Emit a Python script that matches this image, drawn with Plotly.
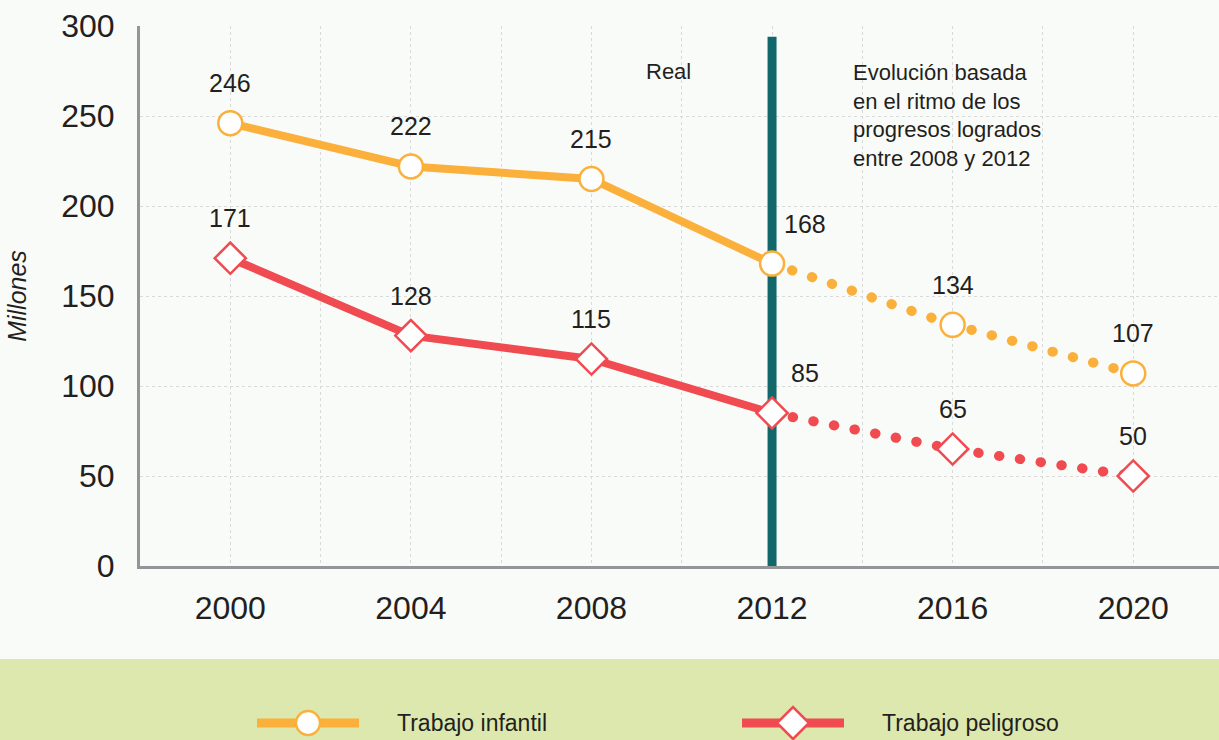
import plotly.graph_objects as go

# ---- data ----
years_real = [2000, 2004, 2008, 2012]
years_proj = [2012, 2016, 2020]
infantil_real = [246, 222, 215, 168]
infantil_proj = [168, 134, 107]
peligroso_real = [171, 128, 115, 85]
peligroso_proj = [85, 65, 50]
tick_years = [2000, 2004, 2008, 2012, 2016, 2020]

ORANGE = "#fbb03b"
RED = "#ef4b50"
TEAL = "#12676a"
GRAY = "#939598"
GRID = "#d9d9d9"
TXT = "#231f20"
BG = "#f9fbf8"
LEG_BG = "#dce8ad"
FONT = "Liberation Sans, Arial, sans-serif"

W, H = 1219, 740
L, R, T, B = 140, 0, 26, 174


def px2x(px):
    return (px - L) / (W - L - R)


def px2y(py):
    return (H - B - py) / (H - T - B)


fig = go.Figure()

# dotted projections first so the real markers sit above them
for yrs, vals, col in [(years_proj, infantil_proj, ORANGE), (years_proj, peligroso_proj, RED)]:
    fig.add_trace(go.Scatter(x=yrs, y=vals, mode="lines", showlegend=False,
                             line=dict(color=col, width=10, dash="0.5px,20.5px"),
                             hoverinfo="skip"))

series = [
    ("Trabajo infantil", years_real, infantil_real, years_proj, infantil_proj, ORANGE, "circle"),
    ("Trabajo peligroso", years_real, peligroso_real, years_proj, peligroso_proj, RED, "diamond"),
]

for name, xr, yr, xp, yp, col, sym in series:
    fig.add_trace(go.Scatter(x=xr, y=yr, mode="lines+markers", name=name, showlegend=False,
                             line=dict(color=col, width=8),
                             marker=dict(symbol=sym, size=24, color="white",
                                         line=dict(color=col, width=2.5))))
    fig.add_trace(go.Scatter(x=xp[1:], y=yp[1:], mode="markers", showlegend=False,
                             marker=dict(symbol=sym, size=24, color="white",
                                         line=dict(color=col, width=2.5))))
    # value labels
    for xv, yv in zip(xr + xp[1:], yr + yp[1:]):
        fig.add_annotation(x=xv, y=yv, text=str(yv), showarrow=False,
                           xshift=33 if xv == 2012 else 0, yshift=40,
                           font=dict(size=25, color=TXT, family=FONT))

# divider between real data and projection (above the grid, below the lines)
fig.add_shape(type="line", x0=2012, x1=2012, y0=0, y1=294, xref="x", yref="y",
              line=dict(color=TEAL, width=9), layer="between")

fig.add_annotation(x=2009.7, y=275, text="Real", showarrow=False,
                   font=dict(size=22, color=TXT, family=FONT))
fig.add_annotation(x=2013.75, y=282, xanchor="left", yanchor="top", align="left",
                   text="Evolución basada<br>en el ritmo de los<br>progresos logrados<br>entre 2008 y 2012",
                   showarrow=False, font=dict(size=22, color=TXT, family=FONT))

# legend band + hand drawn legend keys (long line with marker in the middle)
fig.add_shape(type="rect", xref="paper", yref="paper", x0=px2x(-20), x1=px2x(W + 20),
              y0=px2y(659), y1=px2y(H + 20), fillcolor=LEG_BG, line_width=0, layer="below")

legend_items = [("Trabajo infantil", ORANGE, "circle", 308),
                ("Trabajo peligroso", RED, "diamond", 793)]
ly = px2y(723)
for name, col, sym, cx in legend_items:
    fig.add_shape(type="line", xref="paper", yref="paper", x0=px2x(cx - 51), x1=px2x(cx + 51),
                  y0=ly, y1=ly, line=dict(color=col, width=9))
    if sym == "circle":
        fig.add_shape(type="circle", xref="paper", yref="paper", xsizemode="pixel",
                      ysizemode="pixel", xanchor=px2x(cx), yanchor=ly,
                      x0=-12, x1=12, y0=-12, y1=12, fillcolor="white",
                      line=dict(color=col, width=2.5))
    else:
        fig.add_shape(type="path", xref="paper", yref="paper", xsizemode="pixel",
                      ysizemode="pixel", xanchor=px2x(cx), yanchor=ly,
                      path="M0,-16L16,0L0,16L-16,0Z", fillcolor="white",
                      line=dict(color=col, width=2.5))
    fig.add_annotation(xref="paper", yref="paper", x=px2x(cx + 87), y=ly, xanchor="left",
                       yanchor="middle", text=name, showarrow=False,
                       font=dict(size=23, color=TXT, family=FONT))

fig.update_xaxes(range=[1998, 2021.9], tickvals=tick_years, showgrid=True, gridcolor=GRID,
                 griddash="3px,3px", gridwidth=1,
                 minor=dict(dtick=2, tick0=2000, showgrid=True, gridcolor=GRID,
                            griddash="3px,3px", gridwidth=1),
                 showline=True, linecolor=GRAY, linewidth=3, zeroline=False, ticks="",
                 ticklabelstandoff=12, tickfont=dict(size=32, color=TXT, family=FONT))
fig.update_yaxes(range=[0, 300], dtick=50, showgrid=True, gridcolor=GRID, griddash="3px,3px",
                 gridwidth=1, showline=True, linecolor=GRAY, linewidth=3, zeroline=False,
                 ticks="", ticklabelstandoff=16, tickfont=dict(size=32, color=TXT, family=FONT),
                 title=dict(text="Millones", standoff=28,
                            font=dict(size=25, color=TXT, family=FONT, style="italic")))

fig.update_layout(width=W, height=H, autosize=False,
                  margin=dict(l=L, r=R, t=T, b=B),
                  paper_bgcolor=BG, plot_bgcolor=BG, showlegend=False,
                  font=dict(family=FONT, color=TXT))

# no page margin; round dots for the dotted projection lines
css = ("document.body.style.margin='0';"
       "var s=document.createElement('style');"
       "s.innerHTML='.js-line{stroke-linecap:round;stroke-linejoin:round}';"
       "document.head.appendChild(s);")
fig.write_html("out.html", post_script=css, config={"displayModeBar": False})
